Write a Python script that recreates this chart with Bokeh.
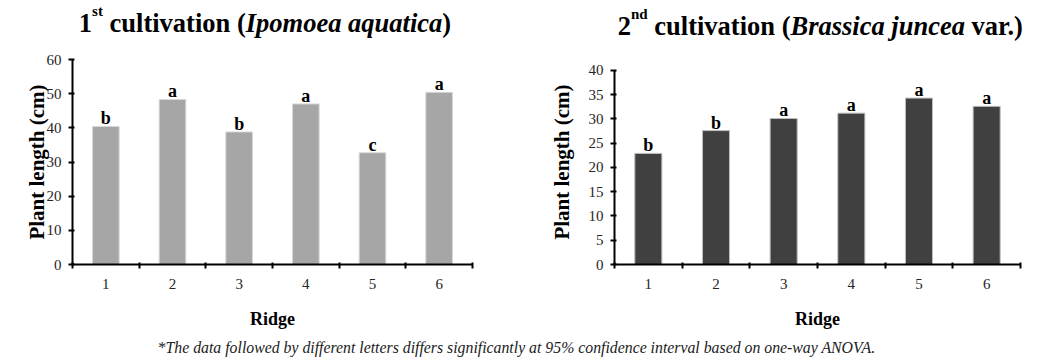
from bokeh.plotting import figure
from bokeh.layouts import column, row
from bokeh.models import Range1d, FixedTicker, ColumnDataSource
from bokeh.core.properties import value, field
from bokeh.embed import file_html
from bokeh.resources import INLINE

# ---------------- data ----------------
ridges = [1, 2, 3, 4, 5, 6]
cult1_length = [40.4, 48.3, 38.8, 47.0, 32.7, 50.4]
cult1_letters = ["b", "a", "b", "a", "c", "a"]
cult2_length = [22.9, 27.6, 30.1, 31.2, 34.3, 32.6]
cult2_letters = ["b", "b", "a", "a", "a", "a"]
y1_ticks = [0, 10, 20, 30, 40, 50, 60]
y2_ticks = [0, 5, 10, 15, 20, 25, 30, 35, 40]
x_label = "Ridge"
y_label = "Plant length (cm)"
footnote = ("*The data followed by different letters differs significantly "
            "at 95% confidence interval based on one-way ANOVA.")
title1_parts = [("1", "bold", False), ("st", "bold", True), (" cultivation (", "bold", False),
                ("Ipomoea aquatica", "bold italic", False), (")", "bold", False)]
title2_parts = [("2", "bold", False), ("nd", "bold", True), (" cultivation (", "bold", False),
                ("Brassica juncea", "bold italic", False), (" var.)", "bold", False)]

FONT = "Liberation Serif"
TOTAL_W = 1047

# Times metrics (per 1000 em) for laying out the rich-text titles
BOLD = {' ': 250, '(': 333, ')': 333, '.': 250, '1': 500, '2': 500, 'a': 500, 'c': 444,
        'd': 556, 'i': 278, 'l': 278, 'n': 556, 'o': 500, 'r': 444, 's': 389, 't': 333,
        'u': 556, 'v': 500}
BOLDITAL = {' ': 250, 'B': 667, 'I': 389, 'a': 500, 'c': 444, 'e': 444, 'i': 278, 'j': 278,
            'm': 778, 'n': 556, 'o': 500, 'p': 500, 'q': 500, 's': 389, 't': 278, 'u': 556,
            'r': 389}


def text_width(s, style, size):
    table = BOLDITAL if "italic" in style else BOLD
    return sum(table.get(ch, 500) for ch in s) * size / 1000.0


def title_rows(parts, center_x, center_y, main_size=26.5, sup_size=15.0, rise=12.0):
    widths = [text_width(t, s, sup_size if sup else main_size) for t, s, sup in parts]
    x = center_x - sum(widths) / 2.0
    xs, ys, texts, styles, sizes = [], [], [], [], []
    for (txt, style, sup), w in zip(parts, widths):
        size = sup_size if sup else main_size
        lead = len(txt) - len(txt.lstrip(" "))
        xs.append(x + text_width(" " * lead, style, size))
        ys.append(center_y + (rise if sup else 0))
        texts.append(txt.strip(" "))
        styles.append(style)
        sizes.append("%.1fpx" % size)
        x += w
    return dict(x=xs, y=ys, text=texts, style=styles, size=sizes)


def strip_fig(h):
    f = figure(width=TOTAL_W, height=h, x_range=Range1d(0, TOTAL_W), y_range=Range1d(0, h),
               x_axis_type=None, y_axis_type=None, toolbar_location=None,
               output_backend="svg", min_border=0)
    f.title.visible = False
    f.grid.visible = False
    f.outline_line_color = None
    return f


# ---------------- title strip ----------------
TH = 50
tfig = strip_fig(TH)
for parts, cx, cy in [(title1_parts, 264.5, TH - 22), (title2_parts, 821, TH - 25)]:
    src = ColumnDataSource(title_rows(parts, cx, cy))
    tfig.text(x="x", y="y", text="text", source=src, text_font=value(FONT),
              text_font_style=field("style"), text_font_size=field("size"),
              text_align="left", text_baseline="middle", text_color="black")


# ---------------- charts ----------------
CH = 285


def make_chart(values, letters, yticks, y_end, color, edge, width, mbl, mbr, lab_standoff):
    p = figure(width=width, height=CH, x_range=Range1d(0.5, 6.5),
               y_range=Range1d(yticks[0], y_end), toolbar_location=None,
               output_backend="svg", min_border_left=mbl, min_border_right=mbr,
               min_border_top=9, min_border_bottom=71)
    p.title.visible = False
    p.grid.visible = False
    p.outline_line_color = None
    src = ColumnDataSource(dict(x=ridges, top=values, letter=letters))
    p.vbar(x="x", top="top", width=0.4, source=src, fill_color=color, line_color=edge,
           line_width=1)
    p.text(x="x", y="top", text="letter", source=src, text_font=value(FONT),
           text_font_style="bold", text_font_size="18px", text_align="center",
           text_baseline="middle", y_offset=-8, text_color="black")

    bounds = [r - 0.5 for r in ridges] + [ridges[-1] + 0.5]
    xa = p.xaxis[0]
    xa.ticker = FixedTicker(ticks=ridges, minor_ticks=bounds)
    xa.major_tick_out = 4
    xa.major_tick_in = 0
    xa.minor_tick_line_color = "black"
    xa.minor_tick_line_width = 2
    xa.minor_tick_out = 4
    xa.minor_tick_in = 2
    xa.major_label_standoff = 10
    xa.axis_label = x_label
    xa.axis_label_standoff = 17

    ya = p.yaxis[0]
    ya.ticker = FixedTicker(ticks=yticks)
    ya.bounds = (yticks[0], yticks[-1])
    ya.minor_tick_line_color = None
    ya.major_tick_line_width = 2
    ya.major_tick_out = 4
    ya.major_tick_in = 2
    ya.major_label_standoff = 7
    ya.axis_label = y_label
    ya.axis_label_standoff = lab_standoff

    for ax in (xa, ya):
        ax.axis_line_width = 2
        ax.axis_line_color = "black"
        ax.major_label_text_font = FONT
        ax.major_label_text_font_size = "15px"
        ax.major_label_text_color = "#262626"
        ax.axis_label_text_font = FONT
        ax.axis_label_text_font_style = "bold"
        ax.axis_label_text_color = "black"
    xa.major_tick_line_color = None
    ya.major_tick_line_color = "black"
    xa.axis_label_text_font_size = "18px"
    ya.axis_label_text_font_size = "21px"
    return p


# right chart: its 40 sits 11 px lower than the left chart's 60 -> range extends above 40
p1 = make_chart(cult1_length, cult1_letters, y1_ticks, 60, "#a6a6a6", "#d9d9d9",
                523, 72, 51, -5)
p2 = make_chart(cult2_length, cult2_letters, y2_ticks, 40 + 11 * 40 / 195.0, "#404040",
                "#bfbfbf", 524, 91, 27, 12)

# ---------------- footnote strip ----------------
FH = 363 - TH - CH
ffig = strip_fig(FH)
ffig.text(x=[516], y=[FH - 11.7], text=[footnote], text_font=value(FONT),
          text_font_style="italic", text_font_size="15.8px", text_align="center",
          text_baseline="middle", text_color="#1a1a1a")

layout = column(tfig, row(p1, p2), ffig)
open("out.html", "w").write(file_html(layout, INLINE))
